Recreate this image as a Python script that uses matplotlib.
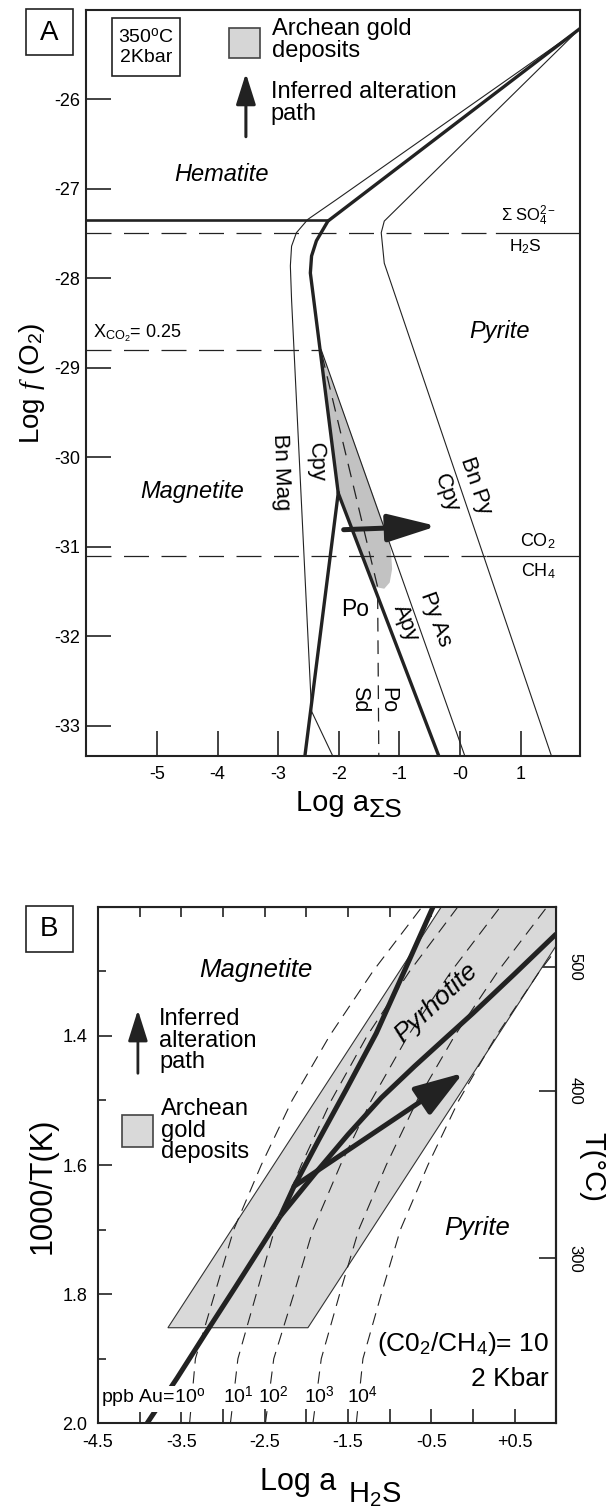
import matplotlib
matplotlib.use('Agg')
import matplotlib.pyplot as plt
import numpy as np
from matplotlib.patches import Polygon, Rectangle
from matplotlib.patches import ArrowStyle

plt.rcParams['font.family'] = ['Liberation Sans', 'DejaVu Sans']
plt.rcParams['mathtext.fontset'] = 'custom'
plt.rcParams['mathtext.rm'] = 'Liberation Sans'
plt.rcParams['mathtext.it'] = 'Liberation Serif:italic'
plt.rcParams['mathtext.bf'] = 'Liberation Sans:bold'

# ---------------- DATA : panel A (log fO2 vs log a_sumS) ----------------
a_xticks = [-5, -4, -3, -2, -1, 0, 1]
a_xticklabels = ['-5', '-4', '-3', '-2', '-1', '-0', '1']
a_yticks = [-26, -27, -28, -29, -30, -31, -32, -33]
a_yticklabels = ['-26', '-27', '-28', '-29', '-30', '-31', '-32', '-33']
a_xlim = (-6.17, 1.976)
a_ylim = (-33.34, -25.0)

hem_mag_x = [-6.17, -2.18]
hem_mag_y = [-27.35, -27.35]
main_bound_x = [1.976, -2.18, -2.37, -2.45, -2.47, -2.01, -0.35]
main_bound_y = [-25.21, -27.36, -27.58, -27.75, -27.94, -30.40, -33.34]
po_sd_bound_x = [-2.01, -2.56]
po_sd_bound_y = [-30.40, -33.34]
bnmag_x = [1.976, -2.04, -2.51, -2.70, -2.78, -2.80, -2.78, -2.45, -2.10]
bnmag_y = [-25.21, -27.12, -27.34, -27.49, -27.64, -27.86, -28.24, -32.84, -33.34]
bnpy_x = [1.976, -1.25, -1.30, -1.25, 1.51]
bnpy_y = [-25.21, -27.36, -27.49, -27.83, -33.34]
pyas_x = [-2.29, 0.08]
pyas_y = [-28.80, -33.34]
so4_h2s_y = -27.49
co2_ch4_y = -31.10
xco2_x = [-6.17, -2.31]
xco2_y = [-28.80, -28.80]
po_sd_dash_x = [-2.28, -1.36, -1.34]
po_sd_dash_y = [-28.85, -31.45, -33.34]
goldA_x = [-2.29, -1.19, -1.14, -1.12, -1.16, -1.25, -1.40, -2.01]
goldA_y = [-28.80, -30.88, -31.05, -31.25, -31.40, -31.47, -31.45, -30.40]
pathA_x = [-1.92, -0.38]
pathA_y = [-30.81, -30.77]

# ---------------- DATA : panel B (1000/T vs log aH2S) ----------------
b_xticks = [-4.5, -4.0, -3.5, -3.0, -2.5, -2.0, -1.5, -1.0, -0.5, 0.0, 0.5]
b_xticklabels = ['-4.5', '', '-3.5', '', '-2.5', '', '-1.5', '', '-0.5', '', '+0.5']
b_yticks = [1.4, 1.6, 1.8, 2.0]
b_yticklabels = ['1.4', '1.6', '1.8', '2.0']
b_yminor = [1.3, 1.5, 1.7, 1.9]
b_tticks = [300, 400, 500]
b_xlim = (-4.5, 1.0)
b_ylim = (2.0, 1.2)

goldB_x = [-3.66, -1.98, 1.302, -0.378]
goldB_y = [1.852, 1.852, 1.20, 1.20]
mag_po_x = [-2.31, -2.146, -1.85, -1.52, -1.16, -0.80, -0.478]
mag_po_y = [1.679, 1.633, 1.561, 1.483, 1.396, 1.293, 1.200]
mag_py_x = [-3.91, -3.55, -3.19, -2.85, -2.51, -2.31]
mag_py_y = [2.000, 1.930, 1.857, 1.789, 1.720, 1.679]
po_py_x = [-2.31, -1.90, -1.50, -1.10, -0.70, -0.30, 0.0, 0.50, 1.0]
po_py_y = [1.679, 1.614, 1.553, 1.496, 1.447, 1.400, 1.365, 1.304, 1.242]
pathB_x = [-2.146, -0.117]
pathB_y = [1.633, 1.4575]

au_y = [2.0, 1.9, 1.8, 1.7, 1.6, 1.5, 1.4, 1.3, 1.2]
au_1e0_x = [-3.40, -3.33, -3.10, -2.87, -2.54, -2.17, -1.72, -1.20, -0.61]
au_1e1_x = [-2.91, -2.82, -2.60, -2.38, -2.06, -1.70, -1.27, -0.76, -0.18]
au_1e2_x = [-2.49, -2.39, -2.15, -1.92, -1.59, -1.22, -0.78, -0.26, 0.33]
au_1e3_x = [-1.92, -1.82, -1.60, -1.37, -1.04, -0.67, -0.22, 0.30, 0.89]
au_1e4_x = [-1.40, -1.32, -1.10, -0.87, -0.54, -0.17, 0.28, 0.80, 1.39]
au_labels = ['10$^\\mathregular{1}$', '10$^\\mathregular{2}$', '10$^\\mathregular{3}$', '10$^\\mathregular{4}$']
au_label_x = [-3.0, -2.575, -2.03, -1.513]

# ---------------- FIGURE ----------------
W, H = 606, 1509
fig = plt.figure(figsize=(W / 100, H / 100), dpi=100)
K = '#222222'


def fpos(x, y):
    return x / W, 1 - y / H


def axes_px(l, t, r, b):
    return [l / W, 1 - b / H, (r - l) / W, (b - t) / H]


def frect(l, t, r, b, **kw):
    rect = Rectangle((l / W, 1 - b / H), (r - l) / W, (b - t) / H,
                     transform=fig.transFigure, **kw)
    fig.add_artist(rect)


def ftext(x, y, s, **kw):
    fig.text(x / W, 1 - y / H, s, **kw)


def farrow(x, y0, y1, hl, hw, lw):
    fig.add_artist(matplotlib.patches.FancyArrowPatch(
        fpos(x, y0), fpos(x, y1), transform=fig.transFigure,
        arrowstyle=ArrowStyle('-|>', head_length=hl, head_width=hw),
        mutation_scale=10, lw=lw, color=K, shrinkA=0, shrinkB=0))


# ================= PANEL A =================
axA = fig.add_axes(axes_px(86.2, 10, 579.7, 756))
axA.set_xlim(*a_xlim)
axA.set_ylim(*a_ylim)
for s in axA.spines.values():
    s.set_linewidth(1.5)
    s.set_color(K)
axA.set_xticks(a_xticks)
axA.set_xticklabels(a_xticklabels)
axA.set_yticks(a_yticks)
axA.set_yticklabels(a_yticklabels)
axA.tick_params(axis='x', direction='in', length=18, width=1.2, pad=7, labelsize=13, color=K)
axA.tick_params(axis='y', direction='in', length=18, width=1.2, pad=4.5, labelsize=13, color=K)

axA.add_patch(Polygon(list(zip(goldA_x, goldA_y)), closed=True, facecolor='#c2c2c2',
                      edgecolor='none', zorder=1))
axA.plot(hem_mag_x, hem_mag_y, color=K, lw=1.9, zorder=3)
axA.plot(main_bound_x, main_bound_y, color=K, lw=2.4, zorder=3, solid_joinstyle='round')
axA.plot(po_sd_bound_x, po_sd_bound_y, color=K, lw=2.4, zorder=3)
axA.plot(bnmag_x, bnmag_y, color=K, lw=0.8, zorder=2)
axA.plot(bnpy_x, bnpy_y, color=K, lw=0.8, zorder=2)
axA.plot(pyas_x, pyas_y, color=K, lw=0.8, zorder=2)
dashA = (0, (20, 10))
axA.plot([a_xlim[0], 0.6], [so4_h2s_y, so4_h2s_y], color=K, lw=0.9, ls=dashA, zorder=2)
axA.plot([0.6, a_xlim[1]], [so4_h2s_y, so4_h2s_y], color=K, lw=0.9, zorder=2)
axA.plot([a_xlim[0], 0.45], [co2_ch4_y, co2_ch4_y], color=K, lw=0.9, ls=dashA, zorder=2)
axA.plot([0.45, a_xlim[1]], [co2_ch4_y, co2_ch4_y], color=K, lw=0.9, zorder=2)
axA.plot(xco2_x, xco2_y, color=K, lw=0.9, ls=dashA, zorder=2)
axA.plot(po_sd_dash_x, po_sd_dash_y, color=K, lw=0.9, ls=(0, (11, 7)), zorder=2)
axA.annotate('', xy=(pathA_x[1], pathA_y[1]), xytext=(pathA_x[0], pathA_y[0]),
             arrowprops=dict(arrowstyle=ArrowStyle('-|>', head_length=3.0, head_width=0.85),
                             mutation_scale=10, lw=3.6, color=K, shrinkA=0, shrinkB=0),
             zorder=5)

axA.text(-3.94, -26.84, 'Hematite', style='italic', fontsize=17, ha='center', va='center')
axA.text(0.646, -28.59, 'Pyrite', style='italic', fontsize=17, ha='center', va='center')
axA.text(-4.42, -30.38, 'Magnetite', style='italic', fontsize=17, ha='center', va='center')
axA.text(1.13, -27.30, r'$\mathregular{\Sigma\ SO_4^{2-}}$', fontsize=12, ha='center', va='center')
axA.text(1.08, -27.65, r'H$_2$S', fontsize=12.5, ha='center', va='center')
axA.text(-6.06, -28.66, r'X$_\mathregular{CO_2}$= 0.25', fontsize=13, ha='left', va='baseline')
axA.text(1.29, -30.94, r'CO$_2$', fontsize=13, ha='center', va='center')
axA.text(1.29, -31.27, r'CH$_4$', fontsize=13, ha='center', va='center')
axA.text(-2.95, -30.17, 'Bn Mag', fontsize=16, rotation=-88, ha='center', va='center')
axA.text(-2.37, -30.06, 'Cpy', fontsize=16, rotation=-88, ha='center', va='center')
axA.text(0.26, -30.32, 'Bn Py', fontsize=16, rotation=-71, ha='center', va='center')
axA.text(-0.22, -30.40, 'Cpy', fontsize=16, rotation=-71, ha='center', va='center')
axA.text(-1.73, -31.70, 'Po', fontsize=16.5, ha='center', va='center')
axA.text(-0.89, -31.85, 'Apy', fontsize=16, rotation=-69, ha='center', va='center')
axA.text(-0.41, -31.81, 'Py As', fontsize=16, rotation=-70, ha='center', va='center')
axA.text(-1.19, -32.71, 'Po', fontsize=15.5, rotation=-90, ha='center', va='center')
axA.text(-1.65, -32.71, 'Sd', fontsize=15.5, rotation=-90, ha='center', va='center')

# panel A decorations (figure pixels)
frect(26.4, 9.3, 72.6, 55, fill=False, lw=1.2, edgecolor=K)
ftext(49.5, 33, 'A', fontsize=20, ha='center', va='center')
frect(111.9, 18.3, 179.5, 76, fill=False, lw=1.2, edgecolor=K)
ftext(145.7, 47, '350$^\\mathregular{o}$C\n2Kbar', fontsize=14, ha='center', va='center',
      linespacing=1.15)
frect(229.2, 27.7, 260.3, 58.3, facecolor='#d6d6d6', lw=1.2, edgecolor='#444444')
ftext(272, 18, 'Archean gold\ndeposits', fontsize=17, ha='left', va='top', linespacing=0.98)
farrow(245.9, 136.7, 73.3, 1.9, 0.6, 2.2)
ftext(270.8, 81, 'Inferred alteration\npath', fontsize=17, ha='left', va='top', linespacing=0.98)
ftext(32, 383, r'Log $\mathit{f}$ (O$_2$)', fontsize=20, rotation=90, ha='center', va='center')
ftext(369, 811, 'Log a', fontsize=21, ha='right', va='baseline')
ftext(369, 817, 'ΣS', fontsize=19, ha='left', va='baseline')

# ================= PANEL B =================
axB = fig.add_axes(axes_px(97.9, 906.7, 556.3, 1423.3))
axB.set_xlim(*b_xlim)
axB.set_ylim(*b_ylim)
for s in axB.spines.values():
    s.set_linewidth(1.5)
    s.set_color(K)
axB.set_xticks(b_xticks)
axB.set_xticklabels(b_xticklabels)
axB.set_yticks(b_yticks)
axB.set_yticklabels(b_yticklabels)
axB.set_yticks(b_yminor, minor=True)
axB.tick_params(axis='x', direction='in', length=10, width=1.2, pad=8, labelsize=13, color=K)
axB.tick_params(axis='y', which='major', direction='in', length=10, width=1.2, pad=7.5,
                labelsize=13, color=K)
axB.tick_params(axis='y', which='minor', direction='in', length=5.5, width=1.2, color=K)

topB = axB.secondary_xaxis('top')
topB.set_xticks(b_xticks)
topB.set_xticklabels([])
topB.tick_params(direction='in', length=7, width=1.2, color=K)


def inv2c(v):
    v = np.asarray(v, dtype=float)
    with np.errstate(divide='ignore', invalid='ignore'):
        return 1000.0 / v - 273.15


def c2inv(t):
    t = np.asarray(t, dtype=float)
    with np.errstate(divide='ignore', invalid='ignore'):
        return 1000.0 / (t + 273.15)


rightB = axB.secondary_yaxis('right', functions=(inv2c, c2inv))
rightB.set_yticks(b_tticks)
rightB.set_yticklabels([str(t) for t in b_tticks], rotation=-90, va='center')
rightB.tick_params(direction='in', length=12, width=1.2, pad=8, labelsize=12, color=K)
rightB.spines['right'].set_linewidth(1.5)

axB.add_patch(Polygon(list(zip(goldB_x, goldB_y)), closed=True, facecolor='#d9d9d9',
                      edgecolor='#333333', lw=0.8, zorder=1))
dashB = (0, (11, 7))
for xs in (au_1e0_x, au_1e1_x, au_1e2_x, au_1e3_x, au_1e4_x):
    axB.plot(xs, au_y, color=K, lw=0.8, ls=dashB, zorder=2)
axB.plot(mag_po_x, mag_po_y, color=K, lw=3.6, zorder=3, solid_capstyle='butt',
         solid_joinstyle='round')
axB.plot(mag_py_x, mag_py_y, color=K, lw=3.6, zorder=3, solid_capstyle='butt',
         solid_joinstyle='round')
axB.plot(po_py_x, po_py_y, color=K, lw=3.6, zorder=3, solid_capstyle='butt',
         solid_joinstyle='round')
axB.annotate('', xy=(pathB_x[1], pathB_y[1]), xytext=(pathB_x[0], pathB_y[0]),
             arrowprops=dict(arrowstyle=ArrowStyle('-|>', head_length=3.0, head_width=1.0),
                             mutation_scale=10, lw=3.6, color=K, shrinkA=0, shrinkB=0),
             zorder=5)

axB.text(-2.61, 1.298, 'Magnetite', style='italic', fontsize=18.5, ha='center', va='center')
axB.text(-0.44, 1.349, 'Pyrhotite', style='italic', fontsize=19, rotation=43,
         ha='center', va='center')
axB.text(0.054, 1.697, 'Pyrite', style='italic', fontsize=18.5, ha='center', va='center')
axB.text(0.911, 1.877, r'(C0$_2$/CH$_4$)= 10', fontsize=19, ha='right', va='center')
axB.text(0.911, 1.932, '2 Kbar', fontsize=19, ha='right', va='center')
wbox = dict(facecolor='white', edgecolor='none', pad=1.0)
axB.text(-4.46, 1.969, 'ppb Au=10$^\\mathregular{o}$', fontsize=14, ha='left', va='baseline',
         bbox=wbox, zorder=6)
for lx, lab in zip(au_label_x, au_labels):
    axB.text(lx, 1.969, lab, fontsize=14, ha='left', va='baseline', bbox=wbox, zorder=6)

frect(26.4, 906, 72.6, 951.7, fill=False, lw=1.2, edgecolor=K)
ftext(49.5, 929.5, 'B', fontsize=20, ha='center', va='center')
farrow(137.9, 1073.3, 1010, 1.9, 0.6, 2.0)
ftext(159.3, 1008, 'Inferred\nalteration\npath', fontsize=17, ha='left', va='top',
      linespacing=0.98)
frect(122.4, 1115, 152.7, 1146.7, facecolor='#d9d9d9', lw=1.2, edgecolor='#444444')
ftext(160.5, 1098, 'Archean\ngold\ndeposits', fontsize=17, ha='left', va='top',
      linespacing=0.98)
ftext(43, 1186, '1000/T(K)', fontsize=22, rotation=90, ha='center', va='center')
ftext(592, 1167, 'T(°C)', fontsize=21, rotation=-90, ha='center', va='center')
ftext(336, 1490, 'Log a', fontsize=22, ha='right', va='baseline')
ftext(347.7, 1503, r'H$_2$S', fontsize=21, ha='left', va='baseline')

fig.savefig('out.png', dpi=100)
